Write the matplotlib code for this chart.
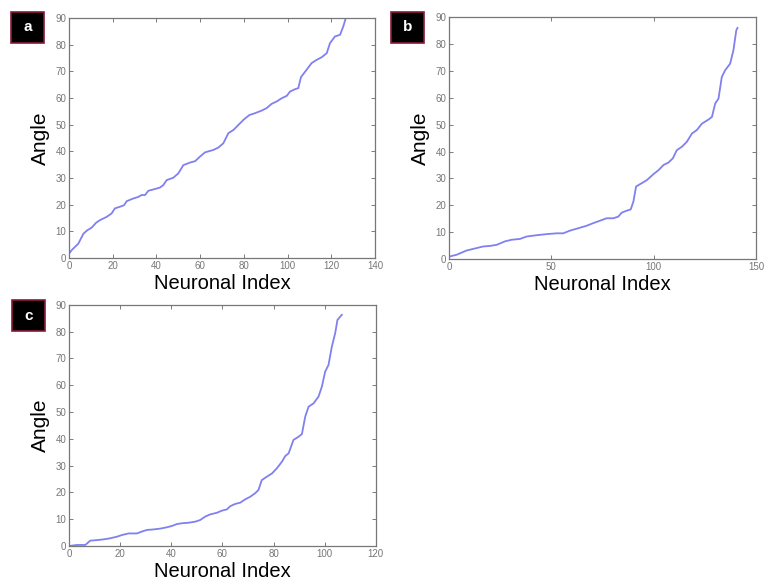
import matplotlib.pyplot as plt
from matplotlib.patches import Rectangle

# Panel a: sorted angles per neuron
a_idx = [0, 1.2, 4.3, 6.6, 8.4, 10.4, 12.4, 14.2, 17.2, 19.5, 21, 23.3, 25.2, 26.4,
         29.4, 31.7, 33.2, 34.8, 36.3, 38.6, 41.6, 43.1, 44.7, 47.7, 50, 52.3, 55.4,
         57.7, 59.9, 62.2, 66, 68.3, 70.6, 72.9, 75.2, 77.5, 79.8, 82.5, 85.1, 88.2,
         90.4, 92.7, 95, 97.3, 99.6, 101.1, 103.4, 104.9, 106.1, 108.7, 111, 113.3,
         115.6, 117.9, 119.4, 121.7, 124, 125.5, 127]
a_ang = [1.6, 2.9, 5.4, 9.1, 10.4, 11.4, 13.2, 14.2, 15.4, 16.7, 18.6, 19.2, 19.8, 21.3,
         22.3, 22.9, 23.6, 23.6, 25.2, 25.7, 26.4, 27.3, 29.2, 30.1, 31.7, 34.8, 35.8,
         36.3, 38.0, 39.6, 40.5, 41.4, 43.0, 46.8, 48.0, 49.9, 51.8, 53.6, 54.3, 55.3,
         56.2, 57.8, 58.7, 59.9, 60.8, 62.4, 63.3, 63.7, 67.8, 70.6, 73.1, 74.3,
         75.3, 76.8, 80.6, 83.1, 83.7, 86.9, 91.0]

# Panel b
b_idx = [0.3, 3.6, 8.5, 13.4, 16.6, 19.9, 23.2, 27.3, 30.5, 34.6, 37.9, 42.8, 47.7,
         52.6, 55.8, 59.1, 63.2, 67.2, 70.5, 73.8, 77, 80.3, 82.7, 84.4, 86.8, 88.8,
         90.1, 91.4, 93.4, 96.7, 99.9, 102.4, 104.8, 107.2, 109.4, 111.3, 113.8, 116.2,
         118.7, 121.1, 123.6, 126.8, 128.5, 130.1, 131.7, 133.3, 134.9, 137.4, 139,
         140.4, 141]
b_ang = [1.0, 1.6, 3.2, 4.1, 4.7, 4.9, 5.3, 6.6, 7.2, 7.5, 8.4, 8.9, 9.3,
         9.6, 9.6, 10.6, 11.5, 12.4, 13.4, 14.3, 15.2, 15.2, 15.8, 17.3, 18.0, 18.5,
         21.4, 27.0, 27.9, 29.4, 31.6, 33.1, 35.0, 35.9, 37.5, 40.5, 41.8, 43.6,
         46.7, 48.0, 50.4, 51.9, 52.9, 57.9, 59.7, 67.7, 70.2, 72.7, 77.7,
         85.1, 86.0]

# Panel c
c_idx = [0, 3.1, 6.4, 8.3, 10.9, 13.6, 16.2, 18.8, 20.7, 23.3, 26.6, 28.5, 30.5, 33.1,
         35.7, 38.3, 40.3, 42.2, 44.2, 46.8, 49.4, 51.3, 53.3, 55.2, 57.8, 59.8, 61.8,
         63.1, 65, 67, 68.9, 70.9, 72.8, 74.1, 75.4, 77.4, 79.4, 81.3, 83.3, 84.6,
         85.9, 87.8, 89.8, 91.1, 92.4, 93.7, 95.7, 97.6, 98.9, 100.2, 101.5, 102.8,
         104.1, 105, 106.7]
c_ang = [0.0, 0.4, 0.4, 2.0, 2.2, 2.5, 2.9, 3.5, 4.1, 4.7, 4.7, 5.4, 6.0, 6.2,
         6.5, 7.0, 7.5, 8.2, 8.5, 8.7, 9.1, 9.7, 11.0, 11.8, 12.4, 13.2, 13.7,
         14.9, 15.7, 16.2, 17.4, 18.4, 19.7, 20.9, 24.6, 25.9, 27.1, 29.0, 31.5, 33.6,
         34.6, 39.6, 40.8, 41.8, 48.3, 52.0, 53.3, 55.8, 59.5, 65.1, 67.6, 74.4,
         79.4, 84.4, 86.3]

panels = [
    ("a", a_idx, a_ang, 140, [0, 20, 40, 60, 80, 100, 120, 140], [0.0897, 0.556, 0.398, 0.413], [0.0143, 0.926]),
    ("b", b_idx, b_ang, 150, [0, 50, 100, 150], [0.584, 0.554, 0.399, 0.4165], [0.5085, 0.926]),
    ("c", c_idx, c_ang, 120, [0, 20, 40, 60, 80, 100, 120], [0.0897, 0.0602, 0.399, 0.415], [0.0156, 0.430]),
]

plt.rcParams['font.family'] = ['Liberation Sans', 'DejaVu Sans']
fig = plt.figure(figsize=(7.69, 5.81), dpi=100)

for letter, xs, ys, xmax, xticks, rect, boxpos in panels:
    ax = fig.add_axes(rect)
    ax.plot(xs, ys, color='#8080f0', lw=1.3, solid_joinstyle='round')
    ax.set_xlim(0, xmax)
    ax.set_ylim(0, 90)
    ax.set_xticks(xticks)
    ax.set_yticks(range(0, 91, 10))
    ax.tick_params(direction='in', length=3, width=0.6, top=True, right=True,
                   labelsize=7, labelcolor='#777777', color='#666666', pad=2)
    for s in ax.spines.values():
        s.set_color('#777777')
        s.set_linewidth(0.9)
    ax.set_xlabel('Neuronal Index', fontsize=14.5, labelpad=2)
    ax.set_ylabel('Angle', fontsize=15, labelpad=4)

    # panel letter box
    fig.patches.append(Rectangle(boxpos, 0.0429, 0.0534, transform=fig.transFigure,
                                 facecolor='black', edgecolor='#8b1a3a', lw=1.2))
    fig.text(boxpos[0] + 0.0215, boxpos[1] + 0.0267, letter, color='white',
             fontsize=11, fontweight='bold', ha='center', va='center')

fig.savefig('out.png', dpi=100)
